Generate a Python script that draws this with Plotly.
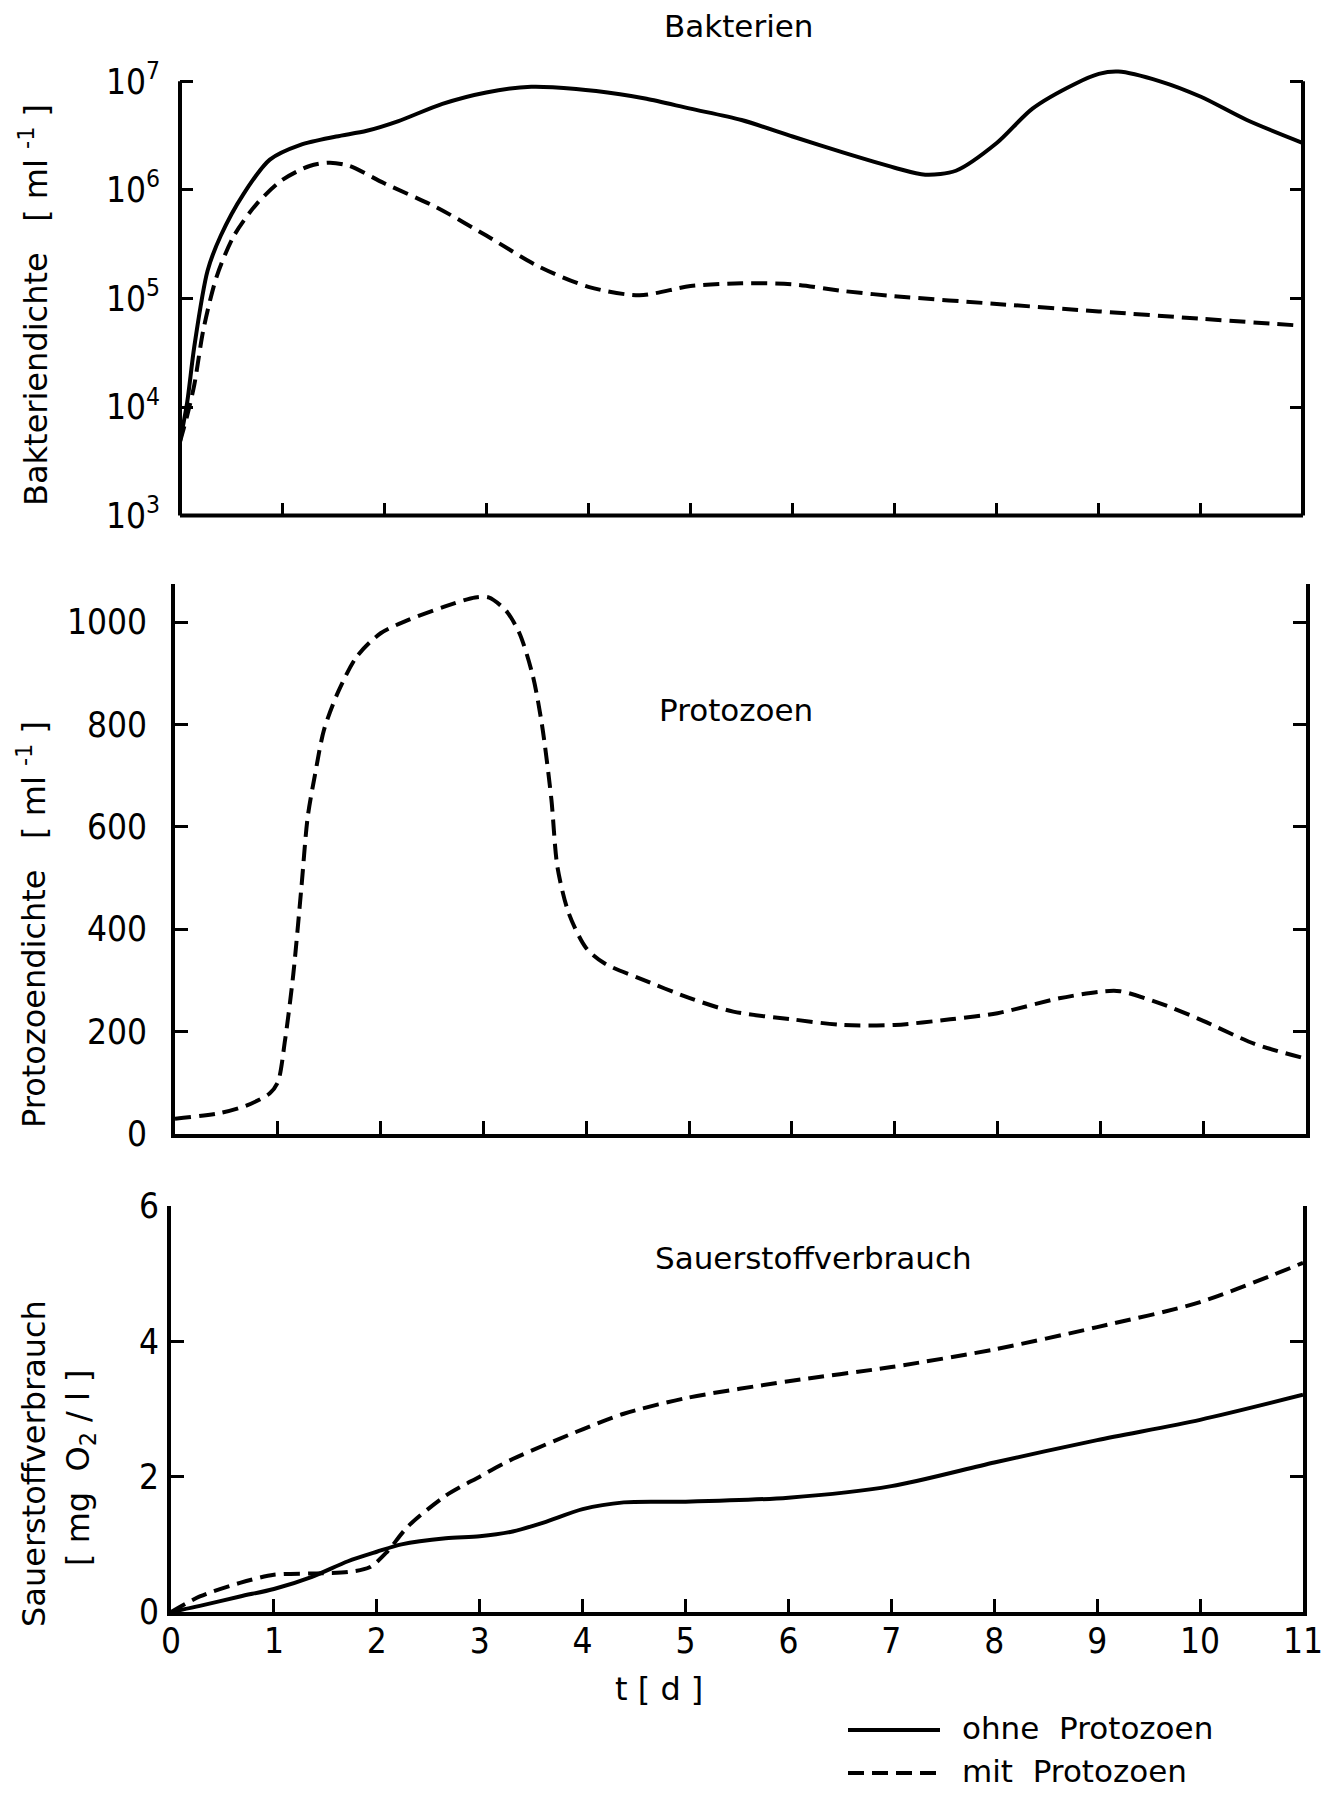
import plotly.graph_objects as go

# ---------------- data ----------------
# Bakterien (density per ml), ohne Protozoen (solid)
t_bak_ohne = [0, 0.07, 0.14, 0.27, 0.4, 0.62, 0.88, 1.18, 1.53, 1.83, 2.14, 2.57, 3.0, 3.44,
              3.88, 4.31, 4.57, 5.0, 5.5, 6.0, 6.5, 7.0, 7.3, 7.6, 8.0, 8.35, 8.77, 9.0, 9.19,
              9.6, 10.0, 10.45, 11.0]
bak_ohne = [4.8e3, 1.1e4, 3.6e4, 1.8e5, 3.8e5, 9.1e5, 1.9e6, 2.6e6, 3.1e6, 3.5e6, 4.3e6, 6.2e6,
            7.9e6, 8.9e6, 8.5e6, 7.6e6, 6.9e6, 5.6e6, 4.4e6, 3.1e6, 2.2e6, 1.6e6, 1.38e6, 1.5e6,
            2.7e6, 5.6e6, 9.5e6, 1.17e7, 1.23e7, 1.0e7, 7.2e6, 4.4e6, 2.7e6]

# Bakterien, mit Protozoen (dashed)
t_bak_mit = [0, 0.07, 0.14, 0.23, 0.36, 0.53, 0.75, 1.0, 1.27, 1.47, 1.66, 2.0, 2.5, 3.0, 3.5,
             4.0, 4.5, 5.0, 5.5, 6.0, 6.5, 7.0, 8.0, 9.0, 10.0, 11.0]
bak_mit = [4.8e3, 8.3e3, 1.6e4, 5.2e4, 1.6e5, 3.8e5, 7.4e5, 1.23e6, 1.66e6, 1.78e6, 1.66e6,
           1.15e6, 7.0e5, 3.8e5, 2.0e5, 1.28e5, 1.07e5, 1.3e5, 1.38e5, 1.35e5, 1.17e5, 1.05e5,
           8.9e4, 7.6e4, 6.5e4, 5.6e4]

# Protozoen (density per ml), mit Protozoen (dashed)
t_proto = [0, 0.44, 0.7, 0.92, 1.0, 1.07, 1.15, 1.23, 1.29, 1.36, 1.45, 1.59, 1.77, 2.0, 2.27,
           2.62, 2.92, 3.05, 3.22, 3.35, 3.48, 3.57, 3.66, 3.72, 3.83, 4.0, 4.18, 4.53, 5.0,
           5.43, 6.0, 6.49, 7.0, 7.54, 8.0, 8.6, 9.0, 9.19, 9.65, 10.0, 10.5, 11.0]
proto = [30, 41, 56, 79, 101, 183, 311, 483, 618, 700, 790, 865, 933, 978, 1004, 1030, 1048,
         1048, 1022, 978, 895, 798, 655, 521, 431, 363, 333, 303, 266, 239, 224, 213, 213, 224,
         236, 265, 278, 279, 250, 221, 176, 147]

# Sauerstoffverbrauch (mg O2/l)
t_o2_ohne = [0, 0.28, 0.67, 1.0, 1.37, 1.72, 2.0, 2.24, 2.67, 3.0, 3.32, 3.62, 4.0, 4.4, 5.0,
             6.0, 7.0, 8.0, 9.0, 10.0, 11.0]
o2_ohne = [0, 0.09, 0.23, 0.34, 0.52, 0.75, 0.89, 1.0, 1.09, 1.12, 1.19, 1.32, 1.52, 1.62, 1.63,
           1.69, 1.86, 2.21, 2.54, 2.84, 3.21]
t_o2_mit = [0, 0.28, 0.67, 1.0, 1.37, 1.72, 1.93, 2.1, 2.3, 2.67, 3.0, 3.32, 4.0, 4.4, 5.0, 6.0,
            7.0, 8.0, 9.0, 10.0, 11.0]
o2_mit = [0, 0.23, 0.43, 0.55, 0.57, 0.59, 0.66, 0.89, 1.26, 1.72, 2.0, 2.26, 2.7, 2.93, 3.16,
          3.41, 3.62, 3.88, 4.21, 4.58, 5.16]

x_ticks = list(range(0, 12))
bak_ticks = [1e3, 1e4, 1e5, 1e6, 1e7]
bak_ticktext = ["10<sup>3</sup>", "10<sup>4</sup>", "10<sup>5</sup>", "10<sup>6</sup>", "10<sup>7</sup>"]
proto_ticks = [0, 200, 400, 600, 800, 1000]
o2_ticks = [0, 2, 4, 6]

# ---------------- figure ----------------
# the page body has an 8 px margin; layout coordinates below are page pixels
OFF = 8
W, H = 1321, 1788
def px(x):
    return (x - OFF) / W
def py(y):
    return 1 - (y - OFF) / H

TXT = "DejaVu Sans, Noto Sans, sans-serif"
NUM = "DejaVu Sans Condensed, Liberation Sans Narrow, Roboto Condensed, DejaVu Sans, sans-serif"
LW = 4
DASH = "16px,8px"

fig = go.Figure()

def line(t, v, dashed, xa, ya, name):
    fig.add_trace(go.Scatter(
        x=t, y=v, mode="lines", name=name, showlegend=False,
        line=dict(color="black", width=LW, dash=DASH if dashed else "solid",
                  shape="spline", smoothing=0.8),
        xaxis=xa, yaxis=ya, hoverinfo="skip"))

line(t_bak_ohne, bak_ohne, False, "x", "y", "ohne Protozoen")
line(t_bak_mit, bak_mit, True, "x", "y", "mit Protozoen")
line(t_proto, proto, True, "x2", "y2", "mit Protozoen")
line(t_o2_ohne, o2_ohne, False, "x3", "y3", "ohne Protozoen")
line(t_o2_mit, o2_mit, True, "x3", "y3", "mit Protozoen")

common_x = dict(range=[0, 11], tickvals=x_ticks, ticks="inside", ticklen=13, tickwidth=3,
                tickcolor="black", showgrid=False, zeroline=False, automargin=False,
                ticklabeloverflow="allow",
                tickfont=dict(family=NUM, size=35, color="black"))
common_y = dict(ticks="inside", ticklen=13, tickwidth=3, tickcolor="black", showgrid=False,
                zeroline=False, automargin=False, ticklabeloverflow="allow",
                tickfont=dict(family=NUM, size=35, color="black"))

# top panel geometry
top_range = [3, 7.12]
top_y0, top_y10e7 = 515.6, 81.3
dec = (top_y0 - top_y10e7) / 4
top_ytop = top_y10e7 - (top_range[1] - 7) * dec

fig.update_layout(
    width=W, height=H, autosize=False,
    margin=dict(l=0, r=0, t=0, b=0, pad=0, autoexpand=False),
    paper_bgcolor="white", plot_bgcolor="white",
    showlegend=False,
    xaxis=dict(domain=[px(180), px(1303)], anchor="y", showticklabels=False, showline=False,
               **common_x),
    yaxis=dict(domain=[py(top_y0), py(top_ytop)], anchor="x", type="log", range=top_range,
               tickvals=bak_ticks, ticktext=bak_ticktext, showline=False, mirror="ticks",
               ticklabelstandoff=19, **common_y),
    xaxis2=dict(domain=[px(175), px(1306)], anchor="y2", showticklabels=False, showline=True,
                linewidth=LW, linecolor="black", **common_x),
    yaxis2=dict(domain=[py(1134), py(1134 - 1075 * 0.512)], anchor="x2", range=[0, 1075],
                tickvals=proto_ticks, showline=True, linewidth=LW, linecolor="black",
                mirror="ticks", ticklabelstandoff=17, **common_y),
    xaxis3=dict(domain=[px(171), px(1303)], anchor="y3", showticklabels=True, showline=True,
                linewidth=LW, linecolor="black", ticklabelstandoff=-5, **common_x),
    yaxis3=dict(domain=[py(1612), py(1206)], anchor="x3", range=[0, 6], tickvals=o2_ticks,
                showline=True, linewidth=LW, linecolor="black", mirror="ticks",
                ticklabelstandoff=1, **common_y),
)

# top-panel axis frame (left, right, bottom), stopping at 10^7
ftop = 4 / (top_range[1] - top_range[0])
for x0, y0, x1, y1 in [(0, 0, 0, ftop), (1, 0, 1, ftop), (0, 0, 1, 0)]:
    fig.add_shape(type="line", xref="x domain", yref="y domain", x0=x0, y0=y0, x1=x1, y1=y1,
                  line=dict(color="black", width=LW), layer="above")

# texts
def ann(text, x, y, size=31, angle=0, xanchor="center", yanchor="middle", family=TXT):
    fig.add_annotation(text=text, x=px(x), y=py(y), xref="paper", yref="paper",
                       showarrow=False, textangle=angle, xanchor=xanchor, yanchor=yanchor,
                       font=dict(family=family, size=size, color="black"))

ann("Bakterien", 739, 26)
ann("Protozoen", 657, 710, xanchor="left")
ann("Sauerstoffverbrauch", 653, 1258, xanchor="left")
ann("Bakteriendichte   [ ml <sup>-1</sup> ]", 34, 305, size=32, angle=-90)
ann("Protozoendichte   [ ml <sup>-1</sup> ]", 32, 925, size=32, angle=-90)
ann("Sauerstoffverbrauch", 34, 1464, size=32, angle=-90)
ann("[ mg  O<sub>2</sub> / l ]", 80, 1468, size=32, angle=-90)
ann("t [ d ]", 659, 1689, size=32)

# legend
for yy, dashed, label in [(1730, False, "ohne  Protozoen"), (1773, True, "mit  Protozoen")]:
    fig.add_shape(type="line", xref="paper", yref="paper", x0=px(848), x1=px(940),
                  y0=py(yy), y1=py(yy),
                  line=dict(color="black", width=LW, dash=DASH if dashed else "solid"))
    ann(label, 960, yy - 2, size=31, xanchor="left")

fig.write_html("out.html")
